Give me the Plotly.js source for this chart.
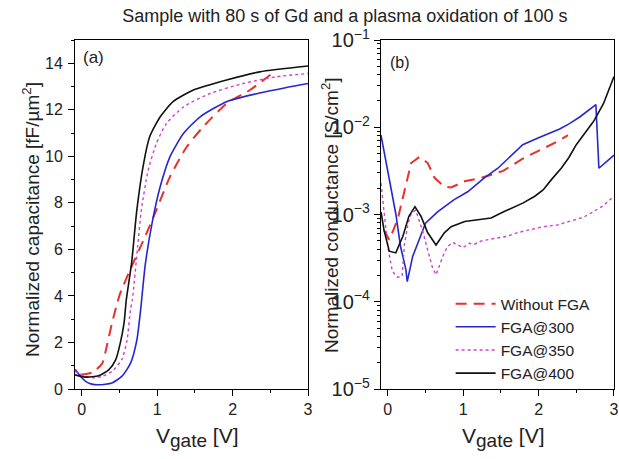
<!DOCTYPE html>
<html>
<head>
<meta charset="utf-8">
<script src="https://cdn.plot.ly/plotly-3.0.1.min.js"></script>
<style>html,body{margin:0;padding:0;background:#fff;}#chart{width:619px;height:459px;}</style>
</head>
<body>
<div id="chart"></div>
<script>
// ---- Panel (a): normalized capacitance [fF/um^2] vs Vgate [V] ----
const seriesNames = ["Without FGA", "FGA@300", "FGA@350", "FGA@400"];

const capV_without = [-0.02, 0.14, 0.27, 0.34, 0.40, 0.47, 0.51, 0.64, 0.82, 0.99, 1.17, 1.39, 1.61, 1.92, 2.23, 2.54];
const capC_without = [0.61, 0.71, 1.10, 1.97, 2.83, 3.70, 4.12, 5.12, 6.41, 7.70, 9.13, 10.40, 11.27, 12.27, 12.85, 13.60];

const capV_300 = [-0.09, 0.0, 0.05, 0.12, 0.225, 0.40, 0.53, 0.645, 0.73, 0.78, 0.84, 0.93, 1.04, 1.17, 1.35, 1.57, 1.92, 2.36, 2.70, 3.0];
const capC_300 = [0.85, 0.48, 0.33, 0.22, 0.18, 0.26, 0.54, 1.10, 2.10, 3.40, 5.30, 7.10, 8.70, 9.99, 10.99, 11.70, 12.35, 12.72, 12.95, 13.13];

const capV_350 = [-0.09, 0.05, 0.15, 0.27, 0.40, 0.53, 0.60, 0.645, 0.67, 0.74, 0.79, 0.88, 0.99, 1.12, 1.35, 1.70, 2.14, 2.58, 3.0];
const capC_350 = [0.75, 0.55, 0.48, 0.54, 0.76, 1.26, 2.10, 3.40, 3.83, 6.10, 7.70, 9.40, 10.56, 11.40, 12.13, 12.70, 13.13, 13.42, 13.56];

const capV_400 = [-0.09, 0.05, 0.225, 0.36, 0.45, 0.51, 0.56, 0.59, 0.66, 0.73, 0.82, 0.90, 1.04, 1.21, 1.48, 1.92, 2.36, 3.0];
const capC_400 = [0.61, 0.51, 0.57, 0.83, 1.26, 1.97, 2.83, 3.83, 5.41, 7.70, 9.70, 10.84, 11.70, 12.35, 12.85, 13.28, 13.63, 13.88];

// ---- Panel (b): normalized conductance [S/cm^2] vs Vgate [V] ----
const gV_without = [-0.05, 0.02, 0.13, 0.24, 0.31, 0.42, 0.53, 0.62, 0.75, 0.84, 1.02, 1.24, 1.53, 1.79, 2.06, 2.28, 2.39];
const gG_without = [6.61e-4, 5.13e-4, 8.71e-4, 2.29e-3, 3.89e-3, 4.57e-3, 3.89e-3, 2.63e-3, 2.09e-3, 2.04e-3, 2.40e-3, 2.63e-3, 3.16e-3, 4.37e-3, 5.75e-3, 7.08e-3, 8.13e-3];

const gV_300 = [-0.09, 0.0, 0.106, 0.17, 0.24, 0.258, 0.33, 0.42, 0.50, 0.66, 0.88, 1.06, 1.28, 1.46, 1.79, 2.0, 2.28, 2.41, 2.55, 2.76, 2.80, 3.0];
const gG_300 = [8.13e-3, 3.24e-3, 1.02e-3, 4.27e-4, 2.34e-4, 1.70e-4, 3.31e-4, 5.25e-4, 7.94e-4, 1.07e-3, 1.48e-3, 1.82e-3, 2.63e-3, 3.39e-3, 6.31e-3, 7.59e-3, 9.55e-3, 1.10e-2, 1.32e-2, 1.82e-2, 3.39e-3, 4.79e-3];

const gV_350 = [-0.09, -0.05, 0.0, 0.06, 0.13, 0.19, 0.22, 0.27, 0.31, 0.37, 0.46, 0.53, 0.59, 0.64, 0.73, 0.79, 0.86, 0.93, 1.0, 1.08, 1.15, 1.25, 1.33, 1.44, 1.58, 1.71, 1.88, 2.06, 2.25, 2.41, 2.60, 2.72, 2.86, 3.0];
const gG_350 = [2.29e-3, 1.02e-3, 4.27e-4, 2.24e-4, 1.91e-4, 1.95e-4, 4.47e-4, 7.94e-4, 1.02e-3, 1.12e-3, 6.61e-4, 3.89e-4, 2.51e-4, 2.04e-4, 3.31e-4, 4.27e-4, 4.79e-4, 4.47e-4, 4.17e-4, 4.68e-4, 4.57e-4, 5.01e-4, 5.13e-4, 5.37e-4, 5.62e-4, 6.17e-4, 6.61e-4, 7.24e-4, 7.59e-4, 8.32e-4, 9.33e-4, 1.07e-3, 1.26e-3, 1.62e-3];

const gV_400 = [-0.09, -0.05, 0.02, 0.106, 0.20, 0.28, 0.36, 0.44, 0.53, 0.64, 0.75, 0.84, 1.02, 1.19, 1.37, 1.53, 1.79, 1.95, 2.06, 2.17, 2.30, 2.40, 2.50, 2.62, 2.73, 2.86, 3.0];
const gG_400 = [1.07e-3, 6.61e-4, 3.80e-4, 3.63e-4, 5.62e-4, 9.55e-4, 1.23e-3, 9.55e-4, 6.17e-4, 4.47e-4, 6.17e-4, 7.24e-4, 8.32e-4, 8.71e-4, 9.12e-4, 1.07e-3, 1.35e-3, 1.62e-3, 1.91e-3, 2.51e-3, 3.39e-3, 4.47e-3, 6.31e-3, 8.71e-3, 1.17e-2, 1.86e-2, 3.80e-2];

const xTickVals = [0, 1, 2, 3];

const FONT = "Arial, 'Liberation Sans', sans-serif";
const TXT = "#222";
const styles = [
  {color: "#e8302c", width: 2, dash: "11px,7px"},
  {color: "#2626d0", width: 1.6, dash: "solid"},
  {color: "#d040d0", width: 1.4, dash: "dot"},
  {color: "#111111", width: 1.6, dash: "solid"}
];

const capX = [capV_without, capV_300, capV_350, capV_400];
const capY = [capC_without, capC_300, capC_350, capC_400];
const gX = [gV_without, gV_300, gV_350, gV_400];
const gY = [gG_without, gG_300, gG_350, gG_400];

const traces = [];
for (let i = 0; i < 4; i++) {
  traces.push({x: capX[i], y: capY[i], xaxis: "x", yaxis: "y", mode: "lines",
    line: Object.assign({shape: "spline", smoothing: 0.6}, styles[i]), showlegend: false, name: seriesNames[i]});
}
for (let i = 0; i < 4; i++) {
  traces.push({x: gX[i], y: gY[i], xaxis: "x2", yaxis: "y2", mode: "lines",
    line: Object.assign({}, styles[i]), showlegend: true, name: seriesNames[i]});
}

const common = {
  showline: true, linecolor: "#000", linewidth: 1, mirror: true,
  ticks: "outside", ticklen: 6, tickwidth: 1, tickcolor: "#000",
  showgrid: false, zeroline: false,
  tickfont: {family: FONT, size: 16, color: TXT}
};
const minorLin = (d) => ({ticks: "outside", ticklen: 3, dtick: d, tick0: 0, tickcolor: "#000", showgrid: false});
// opposite-side axes carrying inward-pointing ticks (top and right borders)
const mirrorAx = {showline: false, ticks: "inside", ticklen: 6, tickwidth: 1, tickcolor: "#000",
  showticklabels: false, showgrid: false, zeroline: false};
const minorIn = (d) => ({ticks: "inside", ticklen: 3, dtick: d, tick0: 0, tickcolor: "#000", showgrid: false});

const domA = [0.1212, 0.4976], domB = [0.6155, 0.9919];

const layout = {
  width: 619, height: 459,
  margin: {l: 0, r: 0, t: 40, b: 70},
  paper_bgcolor: "#fff", plot_bgcolor: "#fff",
  font: {family: FONT, color: TXT},
  title: {text: "Sample with 80 s of Gd and a plasma oxidation of 100 s",
    font: {family: FONT, size: 18, color: TXT}, x: 0.557, xref: "container", xanchor: "center",
    y: 0.966, yref: "container", yanchor: "middle"},
  xaxis: Object.assign({}, common, {domain: domA, range: [-0.09, 3], tickvals: xTickVals, minor: minorLin(0.5)}),
  yaxis: Object.assign({}, common, {domain: [0, 1], range: [0, 15], dtick: 2, tick0: 0, minor: minorLin(1), ticklabelstandoff: 2}),
  xaxis2: Object.assign({}, common, {domain: domB, range: [-0.09, 3], tickvals: xTickVals, anchor: "y2", minor: minorLin(0.5)}),
  yaxis2: Object.assign({}, common, {domain: [0, 1], type: "log", range: [-5, -1], dtick: 1, anchor: "x2",
    exponentformat: "power", showexponent: "all",
    minor: {ticks: "outside", ticklen: 3, dtick: "D1", tickcolor: "#000", showgrid: false}, ticklabelstandoff: 1}),
  xaxis3: Object.assign({}, mirrorAx, {overlaying: "x", side: "top", anchor: "y", range: [-0.09, 3], tickvals: xTickVals, minor: minorIn(0.5)}),
  yaxis3: Object.assign({}, mirrorAx, {overlaying: "y", side: "right", anchor: "x", range: [0, 15], dtick: 2, tick0: 0, minor: minorIn(1)}),
  xaxis4: Object.assign({}, mirrorAx, {overlaying: "x2", side: "top", anchor: "y2", range: [-0.09, 3], tickvals: xTickVals, minor: minorIn(0.5)}),
  yaxis4: Object.assign({}, mirrorAx, {overlaying: "y2", side: "right", anchor: "x2", type: "log", range: [-5, -1], dtick: 1,
    minor: {ticks: "inside", ticklen: 3, dtick: "D1", tickcolor: "#000", showgrid: false}}),
  legend: {x: 0.728, y: 0.292, xanchor: "left", yanchor: "top", xref: "paper", yref: "paper",
    bgcolor: "rgba(0,0,0,0)", borderwidth: 0, font: {family: FONT, size: 15.5, color: TXT},
    itemwidth: 40, tracegroupgap: 0},
  annotations: [
    {text: "(a)", xref: "paper", yref: "paper", x: 93 / 619, y: (389 - 57) / 349, showarrow: false,
      font: {family: FONT, size: 17, color: TXT}, xanchor: "center", yanchor: "middle"},
    {text: "(b)", xref: "paper", yref: "paper", x: 400 / 619, y: (389 - 63) / 349, showarrow: false,
      font: {family: FONT, size: 16, color: TXT}, xanchor: "center", yanchor: "middle"},
    {text: "Normalized capacitance [fF/µm<sup>2</sup>]", xref: "paper", yref: "paper", x: 31 / 619, y: (389 - 220) / 349,
      textangle: -90, showarrow: false, font: {family: FONT, size: 19, color: TXT}, xanchor: "center", yanchor: "middle"},
    {text: "Normalized conductance [S/cm<sup>2</sup>]", xref: "paper", yref: "paper", x: 330 / 619, y: (389 - 215) / 349,
      textangle: -90, showarrow: false, font: {family: FONT, size: 19, color: TXT}, xanchor: "center", yanchor: "middle"},
    {text: "V<sub><span style=\"font-size:19px\">gate</span></sub> [V]", xref: "paper", yref: "paper", x: 197 / 619, y: (389 - 437) / 349,
      showarrow: false, font: {family: FONT, size: 21, color: TXT}, xanchor: "center", yanchor: "middle"},
    {text: "V<sub><span style=\"font-size:19px\">gate</span></sub> [V]", xref: "paper", yref: "paper", x: 503 / 619, y: (389 - 437) / 349,
      showarrow: false, font: {family: FONT, size: 21, color: TXT}, xanchor: "center", yanchor: "middle"}
  ]
};

Plotly.newPlot("chart", traces, layout, {displayModeBar: false, staticPlot: true});
</script>
</body>
</html>
